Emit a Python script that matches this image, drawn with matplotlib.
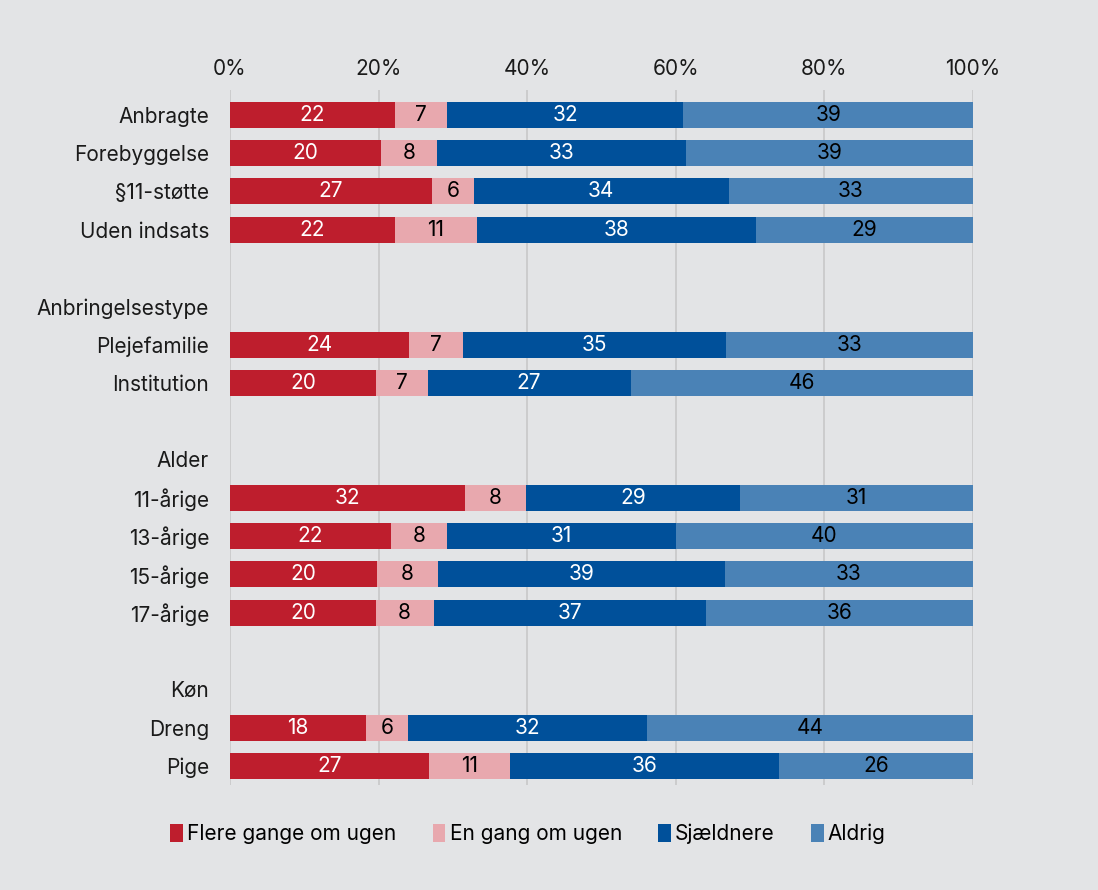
import matplotlib.pyplot as plt

plt.rcParams['font.family'] = ['Inter', 'DejaVu Sans']

# rows of chart, None = spacing row, header rows have no bars
row_labels = ['Anbragte', 'Forebyggelse', '§11-støtte', 'Uden indsats', None,
              'Anbringelsestype', 'Plejefamilie', 'Institution', None,
              'Alder', '11-årige', '13-årige', '15-årige', '17-årige', None,
              'Køn', 'Dreng', 'Pige']
bar_rows = ['Anbragte', 'Forebyggelse', '§11-støtte', 'Uden indsats',
            'Plejefamilie', 'Institution',
            '11-årige', '13-årige', '15-årige', '17-årige',
            'Dreng', 'Pige']

series = ['Flere gange om ugen', 'En gang om ugen', 'Sjældnere', 'Aldrig']
flere = [22.2, 20.3, 27.2, 22.2, 24.1, 19.7, 31.6, 21.6, 19.8, 19.6, 18.3, 26.8]
en_gang = [7.0, 7.6, 5.6, 11.0, 7.3, 6.9, 8.3, 7.6, 8.2, 7.8, 5.6, 10.9]
sjaeldnere = [31.8, 33.4, 34.3, 37.6, 35.3, 27.3, 28.7, 30.8, 38.6, 36.7, 32.2, 36.2]
aldrig = [39.0, 38.7, 32.9, 29.2, 33.3, 46.1, 31.4, 40.0, 33.4, 35.9, 43.9, 26.1]

colors = ['#be1e2d', '#e8a8ae', '#00509a', '#4a82b6']
text_colors = ['white', 'black', 'white', 'black']
bg = '#e3e4e6'
fs = 15

fig = plt.figure(figsize=(10.98, 8.9), dpi=100, facecolor=bg)
ax = fig.add_axes([0.2095, 0.118, 0.6767, 0.781])
ax.set_facecolor(bg)

ypos = [row_labels.index(r) for r in bar_rows]
left = [0] * len(bar_rows)
for vals, name, c, tc in zip([flere, en_gang, sjaeldnere, aldrig], series, colors, text_colors):
    bars = ax.barh(ypos, vals, left=left, height=0.68, color=c, label=name, zorder=2)
    ax.bar_label(bars, labels=[f'{round(v)}' for v in vals], label_type='center',
                 color=tc, fontsize=fs)
    left = [l + v for l, v in zip(left, vals)]

ax.set_xlim(0, 100)
ax.set_ylim(17.5, -0.65)
ax.set_xticks(range(0, 101, 20))
ax.set_xticklabels([f'{t}%' for t in range(0, 101, 20)])
ax.xaxis.tick_top()
ticks = [i for i, r in enumerate(row_labels) if r]
ax.set_yticks(ticks)
ax.set_yticklabels([row_labels[i] for i in ticks])
ax.tick_params(axis='both', length=0, labelsize=fs, colors='#1a1a1a')
ax.tick_params(axis='x', pad=8)
ax.tick_params(axis='y', pad=15)
ax.grid(axis='x', color='#c8c8c8', linewidth=1.2, zorder=0)
for s in ax.spines.values():
    s.set_visible(False)

fig.legend(loc='center', bbox_to_anchor=(0.481, 0.063), ncol=4, frameon=False,
           fontsize=fs, handlelength=0.6, handleheight=0.9, handletextpad=0.2,
           columnspacing=1.75)

fig.savefig('out.png', dpi=100, facecolor=bg)
